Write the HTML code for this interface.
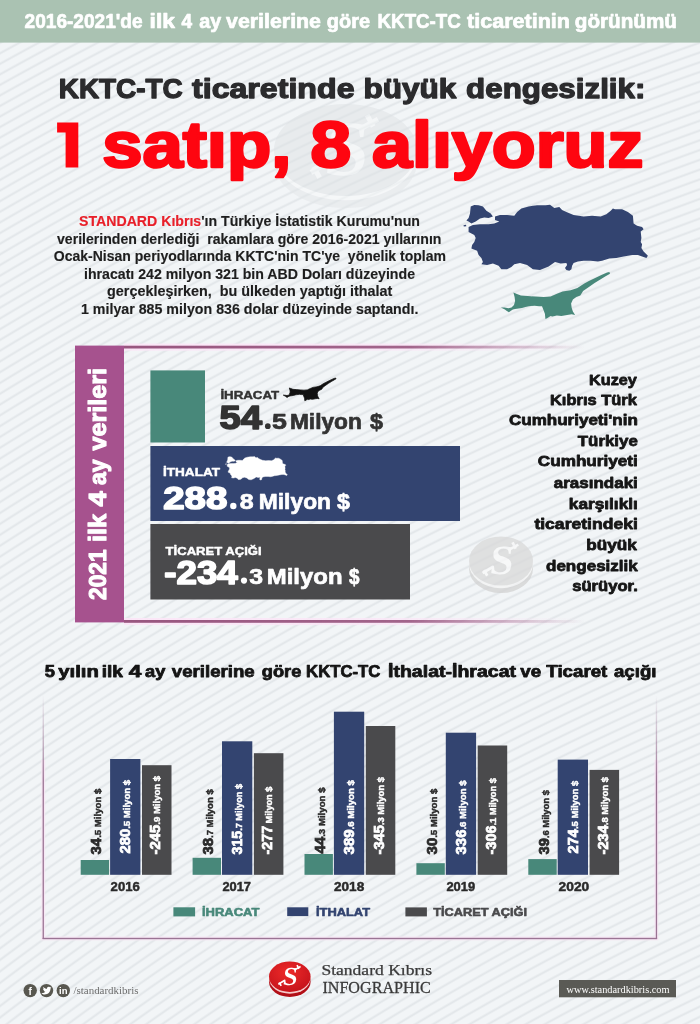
<!DOCTYPE html>
<html lang="tr"><head><meta charset="utf-8"><title>KKTC-TC ticareti</title>
<style>
html,body{margin:0;padding:0;}
body{width:700px;height:1024px;overflow:hidden;position:relative;
background-color:#f2f5f7;
background-image:repeating-radial-gradient(circle at 1900px 3500px, rgba(214,219,223,0) 0px, rgba(214,219,223,0) 5.4px, rgba(214,219,223,0.55) 7.0px, rgba(214,219,223,0.55) 7.4px, rgba(214,219,223,0) 9.2px);
font-family:"Liberation Sans", sans-serif;}
svg.page{position:absolute;left:0;top:0;will-change:transform;}
</style></head>
<body>
<svg class="page" width="700" height="1024" viewBox="0 0 700 1024">
<rect x="0" y="0" width="700" height="42.6" fill="#aac2b2"/>
<text x="24.6" y="27.7" textLength="118.0" lengthAdjust="spacingAndGlyphs" font-size="20.0" fill="#fff" stroke="#fff" stroke-width="0.7" stroke-linejoin="round" font-weight="bold" text-anchor="start" style='font-family:"Liberation Sans", sans-serif' >2016-2021'de</text>
<text x="149.6" y="27.7" textLength="25.4" lengthAdjust="spacingAndGlyphs" font-size="20.0" fill="#fff" stroke="#fff" stroke-width="0.7" stroke-linejoin="round" font-weight="bold" text-anchor="start" style='font-family:"Liberation Sans", sans-serif' >ilk</text>
<text x="181.4" y="27.7" textLength="10.6" lengthAdjust="spacingAndGlyphs" font-size="20.0" fill="#fff" stroke="#fff" stroke-width="0.7" stroke-linejoin="round" font-weight="bold" text-anchor="start" style='font-family:"Liberation Sans", sans-serif' >4</text>
<text x="199.2" y="27.7" textLength="22.0" lengthAdjust="spacingAndGlyphs" font-size="20.0" fill="#fff" stroke="#fff" stroke-width="0.7" stroke-linejoin="round" font-weight="bold" text-anchor="start" style='font-family:"Liberation Sans", sans-serif' >ay</text>
<text x="226.0" y="27.7" textLength="95.0" lengthAdjust="spacingAndGlyphs" font-size="20.0" fill="#fff" stroke="#fff" stroke-width="0.7" stroke-linejoin="round" font-weight="bold" text-anchor="start" style='font-family:"Liberation Sans", sans-serif' >verilerine</text>
<text x="326.8" y="27.7" textLength="43.2" lengthAdjust="spacingAndGlyphs" font-size="20.0" fill="#fff" stroke="#fff" stroke-width="0.7" stroke-linejoin="round" font-weight="bold" text-anchor="start" style='font-family:"Liberation Sans", sans-serif' >göre</text>
<text x="377.6" y="27.7" textLength="83.2" lengthAdjust="spacingAndGlyphs" font-size="20.0" fill="#fff" stroke="#fff" stroke-width="0.7" stroke-linejoin="round" font-weight="bold" text-anchor="start" style='font-family:"Liberation Sans", sans-serif' >KKTC-TC</text>
<text x="467.0" y="27.7" textLength="103.0" lengthAdjust="spacingAndGlyphs" font-size="20.0" fill="#fff" stroke="#fff" stroke-width="0.7" stroke-linejoin="round" font-weight="bold" text-anchor="start" style='font-family:"Liberation Sans", sans-serif' >ticaretinin</text>
<text x="574.8" y="27.7" textLength="102.2" lengthAdjust="spacingAndGlyphs" font-size="20.0" fill="#fff" stroke="#fff" stroke-width="0.7" stroke-linejoin="round" font-weight="bold" text-anchor="start" style='font-family:"Liberation Sans", sans-serif' >görünümü</text>
<g opacity="0.5"><ellipse cx="345.5" cy="162" rx="71.5" ry="46" fill="#e2e5e8"/><ellipse cx="345.5" cy="154.2" rx="71.1425" ry="46" fill="#f8f9fa"/><ellipse cx="345.5" cy="150" rx="71.5" ry="46" fill="#dde1e4"/><g transform="translate(345.5 150) scale(3.0065359477124183)" fill="none" stroke="#f5f7f8" stroke-width="1.7" stroke-linecap="butt"><path d="M-11.5,7.5 L-5,3.6 M-10.6,5.6 L-8.6,9.2 M4.5,-6.8 L10.8,-10.2 M7.2,-11.6 L9.2,-7.8"/></g><text x="0" y="0" font-size="78.17" fill="#f5f7f8" font-weight="bold" text-anchor="middle" transform="translate(344.60 174.95) skewX(-6)" style='font-family:"Liberation Serif", serif'>S</text></g>
<text x="58.8" y="97.6" textLength="123.9" lengthAdjust="spacingAndGlyphs" font-size="27.57" fill="#2b2b2d" stroke="#2b2b2d" stroke-width="1.25" stroke-linejoin="round" font-weight="bold" text-anchor="start" style='font-family:"Liberation Sans", sans-serif' >KKTC-TC</text>
<text x="192.0" y="97.6" textLength="162.5" lengthAdjust="spacingAndGlyphs" font-size="27.57" fill="#2b2b2d" stroke="#2b2b2d" stroke-width="1.25" stroke-linejoin="round" font-weight="bold" text-anchor="start" style='font-family:"Liberation Sans", sans-serif' >ticaretinde</text>
<text x="363.6" y="97.6" textLength="92.8" lengthAdjust="spacingAndGlyphs" font-size="27.57" fill="#2b2b2d" stroke="#2b2b2d" stroke-width="1.25" stroke-linejoin="round" font-weight="bold" text-anchor="start" style='font-family:"Liberation Sans", sans-serif' >büyük</text>
<text x="466.1" y="97.6" textLength="179.3" lengthAdjust="spacingAndGlyphs" font-size="27.57" fill="#2b2b2d" stroke="#2b2b2d" stroke-width="1.25" stroke-linejoin="round" font-weight="bold" text-anchor="start" style='font-family:"Liberation Sans", sans-serif' >dengesizlik:</text>
<path d="M57.1,122.4 H78.3 V167.6 H65.6 V132.6 H57.1 Z" fill="#fe0510"/>
<text x="102.2" y="167.4" textLength="189.2" lengthAdjust="spacingAndGlyphs" font-size="64.29" fill="#fe0510" stroke="#fe0510" stroke-width="2.6" stroke-linejoin="round" font-weight="bold" text-anchor="start" style='font-family:"Liberation Sans", sans-serif' >satıp,</text>
<text x="310.4" y="167.4" textLength="40.6" lengthAdjust="spacingAndGlyphs" font-size="64.29" fill="#fe0510" stroke="#fe0510" stroke-width="2.6" stroke-linejoin="round" font-weight="bold" text-anchor="start" style='font-family:"Liberation Sans", sans-serif' >8</text>
<text x="372.0" y="167.4" textLength="271.4" lengthAdjust="spacingAndGlyphs" font-size="64.29" fill="#fe0510" stroke="#fe0510" stroke-width="2.6" stroke-linejoin="round" font-weight="bold" text-anchor="start" style='font-family:"Liberation Sans", sans-serif' >alıyoruz</text>
<text x="79.0" y="225.6" textLength="341.0" lengthAdjust="spacingAndGlyphs" font-size="14.29" fill="#1e1e1e" stroke="#1e1e1e" stroke-width="0.15" stroke-linejoin="round" font-weight="bold" text-anchor="start" style='font-family:"Liberation Sans", sans-serif' xml:space="preserve"><tspan fill="#e8202a" stroke="#e8202a">STANDARD Kıbrıs</tspan>'ın Türkiye İstatistik Kurumu'nun</text>
<text x="57.0" y="243.9" textLength="384.4" lengthAdjust="spacingAndGlyphs" font-size="14.29" fill="#1e1e1e" stroke="#1e1e1e" stroke-width="0.15" stroke-linejoin="round" font-weight="bold" text-anchor="start" style='font-family:"Liberation Sans", sans-serif' xml:space="preserve">verilerinden derlediği  rakamlara göre 2016-2021 yıllarının</text>
<text x="53.8" y="260.9" textLength="392.2" lengthAdjust="spacingAndGlyphs" font-size="14.29" fill="#1e1e1e" stroke="#1e1e1e" stroke-width="0.15" stroke-linejoin="round" font-weight="bold" text-anchor="start" style='font-family:"Liberation Sans", sans-serif' xml:space="preserve">Ocak-Nisan periyodlarında KKTC'nin TC'ye  yönelik toplam</text>
<text x="84.0" y="279.0" textLength="331.0" lengthAdjust="spacingAndGlyphs" font-size="14.29" fill="#1e1e1e" stroke="#1e1e1e" stroke-width="0.15" stroke-linejoin="round" font-weight="bold" text-anchor="start" style='font-family:"Liberation Sans", sans-serif' xml:space="preserve">ihracatı 242 milyon 321 bin ABD Doları düzeyinde</text>
<text x="107.0" y="295.6" textLength="285.4" lengthAdjust="spacingAndGlyphs" font-size="14.29" fill="#1e1e1e" stroke="#1e1e1e" stroke-width="0.15" stroke-linejoin="round" font-weight="bold" text-anchor="start" style='font-family:"Liberation Sans", sans-serif' xml:space="preserve">gerçekleşirken,  bu ülkeden yaptığı ithalat</text>
<text x="81.0" y="313.5" textLength="337.4" lengthAdjust="spacingAndGlyphs" font-size="14.29" fill="#1e1e1e" stroke="#1e1e1e" stroke-width="0.15" stroke-linejoin="round" font-weight="bold" text-anchor="start" style='font-family:"Liberation Sans", sans-serif' xml:space="preserve">1 milyar 885 milyon 836 dolar düzeyinde saptandı.</text>
<path d="M470.7,206.4 L474.3,205 L478.6,205.3 L482.9,206.4 L486.4,210.7 L490.7,213.6 L492.9,216.4 L488.6,217.9 L484.3,217.6 L480,218.6 L475.7,221.4 L471.4,223.6 L468.6,221.4 L466.4,220.4 L468.6,217.9 L470,213.6 Z M468.6,227.1 L472.9,225 L480,224.3 L488.6,224.3 L494.3,223.6 L499.3,221.4 L495,220 L495,216.4 L500,215 L507.1,215 L514.3,215.7 L517.1,212.1 L521.4,208.6 L528.6,206.4 L537.1,205.3 L545.7,205.3 L550,204.7 L554.3,207.9 L559.3,207.1 L562.1,210 L566.4,212.1 L573.6,215 L583.6,216.4 L592.1,215.7 L600.7,216.4 L606.4,214.3 L610.7,210.7 L612.9,208.6 L615,209.3 L622.1,209.3 L627.9,212.1 L632.9,215.7 L633.6,223.6 L637.1,225.7 L642.1,227.1 L643.6,229.3 L640.7,231.4 L641.4,237.9 L640.7,242.1 L642.1,244.3 L641.4,247.9 L643.6,251.4 L647.9,255.7 L646.4,257.9 L642.1,256.4 L637.9,255 L632.1,255 L623.6,256.4 L616.4,257.9 L609.3,258.6 L602.1,260.7 L597.9,261.4 L590.7,260.7 L583.6,260.7 L577.9,261.4 L573.6,262.9 L572.1,265.7 L571.4,269.3 L569.3,270.7 L566.4,270 L565,267.9 L567.1,265 L566.4,262.9 L560.7,263.6 L555,262.1 L548.6,266.4 L540,270 L532.9,269.3 L527.1,265 L520,262.9 L514.3,264.3 L511.4,267.1 L507.1,269.3 L501.4,269.3 L498.6,265.7 L492.9,263.6 L487.1,265 L481.4,264.3 L482.9,262.1 L481.4,257.9 L478.6,255 L477.1,250.7 L471.4,248.6 L472.1,245 L474.3,242.1 L475.7,237.9 L474.3,235 L468.6,232.1 Z M463.5,225.3 L466,224.8 L466.3,226.2 L463.8,226.6 Z" fill="#334470"/>
<path d="M513.4,292.6 L516.3,293.7 L520.9,295.4 L527.7,296 L535.7,296.6 L543.7,297.1 L550.6,296.6 L556.9,293.7 L562.6,291.4 L570.6,290.3 L577.4,288 L584.3,283.4 L588.9,281.1 L595.7,277.7 L601.4,274.9 L607.1,272.6 L609.4,272 L610,273.7 L606,276 L600.3,279.4 L594.6,282.9 L588.9,286.9 L583.1,290.9 L580.3,295.4 L576.3,297.1 L572.9,299.4 L571.1,303.4 L571.7,308 L572.9,311.4 L575.1,314.9 L571.7,314.3 L567.1,314.9 L561.4,316 L556.9,315.4 L552.3,316.6 L550.6,316 L547.1,318.3 L545.4,318.9 L544.9,313.7 L543.1,309.1 L542,306.3 L539.1,306.3 L534.6,305.7 L528.9,306.3 L525.4,306.9 L522,308 L518.6,308.6 L515.1,309.1 L512.9,309.6 L510.6,310.9 L508.9,312.3 L506.5,310.8 L504.9,309.4 L500.9,307.4 L504.5,307.6 L508.5,308.2 L511.5,307.5 L514,305 L515.1,301 L514.6,297 L513.4,292.6 Z" fill="#48887a"/>
<defs><linearGradient id="fadeL" x1="0" x2="1" y1="0" y2="0"><stop offset="0" stop-color="#98567f"/><stop offset="0.62" stop-color="#98567f" stop-opacity="0.9"/><stop offset="1" stop-color="#98567f" stop-opacity="0"/></linearGradient><linearGradient id="fadeH" x1="0" x2="1" y1="0" y2="0"><stop offset="0" stop-color="#fbe6f7"/><stop offset="0.6" stop-color="#fbe6f7" stop-opacity="0.8"/><stop offset="1" stop-color="#fbe6f7" stop-opacity="0"/></linearGradient><linearGradient id="fadeV" x1="0" x2="0" y1="0" y2="1"><stop offset="0" stop-color="#9a7494" stop-opacity="0"/><stop offset="0.35" stop-color="#9a7494" stop-opacity="1"/><stop offset="1" stop-color="#9a7494"/></linearGradient></defs>
<rect x="75" y="345.6" width="49" height="276.8" fill="#a6528e"/>
<rect x="124" y="343.6" width="460" height="7" fill="url(#fadeH)"/>
<rect x="124" y="618" width="460" height="7" fill="url(#fadeH)"/>
<rect x="124" y="345.7" width="460" height="2.8" fill="url(#fadeL)"/>
<rect x="124" y="620" width="460" height="2.8" fill="url(#fadeL)"/>
<text x="-0.8" y="0.0" textLength="50.5" lengthAdjust="spacingAndGlyphs" font-size="23.71" fill="#fff" stroke="#fff" stroke-width="1.1" stroke-linejoin="round" font-weight="bold" text-anchor="start" style='font-family:"Liberation Sans", sans-serif' transform="translate(105.60 599.1) rotate(-90)" >2021</text>
<text x="57.1" y="0.0" textLength="28.2" lengthAdjust="spacingAndGlyphs" font-size="23.71" fill="#fff" stroke="#fff" stroke-width="1.1" stroke-linejoin="round" font-weight="bold" text-anchor="start" style='font-family:"Liberation Sans", sans-serif' transform="translate(105.60 599.1) rotate(-90)" >ilk</text>
<text x="92.6" y="0.0" textLength="15.2" lengthAdjust="spacingAndGlyphs" font-size="23.71" fill="#fff" stroke="#fff" stroke-width="1.1" stroke-linejoin="round" font-weight="bold" text-anchor="start" style='font-family:"Liberation Sans", sans-serif' transform="translate(105.60 599.1) rotate(-90)" >4</text>
<text x="114.1" y="0.0" textLength="25.6" lengthAdjust="spacingAndGlyphs" font-size="23.71" fill="#fff" stroke="#fff" stroke-width="1.1" stroke-linejoin="round" font-weight="bold" text-anchor="start" style='font-family:"Liberation Sans", sans-serif' transform="translate(105.60 599.1) rotate(-90)" >ay</text>
<text x="148.6" y="0.0" textLength="82.4" lengthAdjust="spacingAndGlyphs" font-size="23.71" fill="#fff" stroke="#fff" stroke-width="1.1" stroke-linejoin="round" font-weight="bold" text-anchor="start" style='font-family:"Liberation Sans", sans-serif' transform="translate(105.60 599.1) rotate(-90)" >verileri</text>
<rect x="150.4" y="370.4" width="54.6" height="72.1" fill="#48887a"/>
<rect x="150.4" y="446" width="309.6" height="75" fill="#334470"/>
<rect x="150.4" y="524" width="259.6" height="75.5" fill="#4a4a4c"/>
<text x="220.4" y="398.7" textLength="58.8" lengthAdjust="spacingAndGlyphs" font-size="11.43" fill="#333" stroke="#333" stroke-width="0.45" stroke-linejoin="round" font-weight="bold" text-anchor="start" style='font-family:"Liberation Sans", sans-serif' >İHRACAT</text>
<circle cx="267.8" cy="426.2" r="2.85" fill="#333"/>
<text x="219.5" y="429.0" textLength="42.5" lengthAdjust="spacingAndGlyphs" font-size="32.29" fill="#333" stroke="#333" stroke-width="1.6" stroke-linejoin="round" font-weight="bold" text-anchor="start" style='font-family:"Liberation Sans", sans-serif' >54</text>
<text x="272.0" y="429.0" textLength="14.9" lengthAdjust="spacingAndGlyphs" font-size="22.86" fill="#333" stroke="#333" stroke-width="0.7" stroke-linejoin="round" font-weight="bold" text-anchor="start" style='font-family:"Liberation Sans", sans-serif' >5</text>
<text x="289.9" y="429.0" textLength="72.0" lengthAdjust="spacingAndGlyphs" font-size="22.86" fill="#333" stroke="#333" stroke-width="0.7" stroke-linejoin="round" font-weight="bold" text-anchor="start" style='font-family:"Liberation Sans", sans-serif' >Milyon</text>
<text x="370.0" y="429.0" textLength="13.0" lengthAdjust="spacingAndGlyphs" font-size="22.86" fill="#333" stroke="#333" stroke-width="0.7" stroke-linejoin="round" font-weight="bold" text-anchor="start" style='font-family:"Liberation Sans", sans-serif' >$</text>
<text x="163.0" y="476.1" textLength="57.0" lengthAdjust="spacingAndGlyphs" font-size="11.43" fill="#fff" stroke="#fff" stroke-width="0.45" stroke-linejoin="round" font-weight="bold" text-anchor="start" style='font-family:"Liberation Sans", sans-serif' >İTHALAT</text>
<circle cx="233.3" cy="506" r="3.2" fill="#fff"/>
<text x="163.2" y="509.1" textLength="64.1" lengthAdjust="spacingAndGlyphs" font-size="30.86" fill="#fff" stroke="#fff" stroke-width="1.6" stroke-linejoin="round" font-weight="bold" text-anchor="start" style='font-family:"Liberation Sans", sans-serif' >288</text>
<text x="239.8" y="509.1" textLength="13.9" lengthAdjust="spacingAndGlyphs" font-size="22.86" fill="#fff" stroke="#fff" stroke-width="0.7" stroke-linejoin="round" font-weight="bold" text-anchor="start" style='font-family:"Liberation Sans", sans-serif' >8</text>
<text x="258.8" y="509.1" textLength="72.2" lengthAdjust="spacingAndGlyphs" font-size="22.86" fill="#fff" stroke="#fff" stroke-width="0.7" stroke-linejoin="round" font-weight="bold" text-anchor="start" style='font-family:"Liberation Sans", sans-serif' >Milyon</text>
<text x="337.1" y="509.1" textLength="12.9" lengthAdjust="spacingAndGlyphs" font-size="22.86" fill="#fff" stroke="#fff" stroke-width="0.7" stroke-linejoin="round" font-weight="bold" text-anchor="start" style='font-family:"Liberation Sans", sans-serif' >$</text>
<text x="165.6" y="554.7" textLength="96.0" lengthAdjust="spacingAndGlyphs" font-size="11.43" fill="#fff" stroke="#fff" stroke-width="0.45" stroke-linejoin="round" font-weight="bold" text-anchor="start" style='font-family:"Liberation Sans", sans-serif' >TİCARET AÇIĞI</text>
<circle cx="244" cy="580.6" r="3.1" fill="#fff"/>
<text x="164.2" y="583.6" textLength="73.6" lengthAdjust="spacingAndGlyphs" font-size="32.86" fill="#fff" stroke="#fff" stroke-width="1.6" stroke-linejoin="round" font-weight="bold" text-anchor="start" style='font-family:"Liberation Sans", sans-serif' >-234</text>
<text x="249.2" y="583.6" textLength="13.8" lengthAdjust="spacingAndGlyphs" font-size="22.86" fill="#fff" stroke="#fff" stroke-width="0.7" stroke-linejoin="round" font-weight="bold" text-anchor="start" style='font-family:"Liberation Sans", sans-serif' >3</text>
<text x="266.8" y="583.6" textLength="75.7" lengthAdjust="spacingAndGlyphs" font-size="22.86" fill="#fff" stroke="#fff" stroke-width="0.7" stroke-linejoin="round" font-weight="bold" text-anchor="start" style='font-family:"Liberation Sans", sans-serif' >Milyon</text>
<text x="349.0" y="583.6" textLength="10.5" lengthAdjust="spacingAndGlyphs" font-size="22.86" fill="#fff" stroke="#fff" stroke-width="0.7" stroke-linejoin="round" font-weight="bold" text-anchor="start" style='font-family:"Liberation Sans", sans-serif' >$</text>
<path d="M513.4,292.6 L516.3,293.7 L520.9,295.4 L527.7,296 L535.7,296.6 L543.7,297.1 L550.6,296.6 L556.9,293.7 L562.6,291.4 L570.6,290.3 L577.4,288 L584.3,283.4 L588.9,281.1 L595.7,277.7 L601.4,274.9 L607.1,272.6 L609.4,272 L610,273.7 L606,276 L600.3,279.4 L594.6,282.9 L588.9,286.9 L583.1,290.9 L580.3,295.4 L576.3,297.1 L572.9,299.4 L571.1,303.4 L571.7,308 L572.9,311.4 L575.1,314.9 L571.7,314.3 L567.1,314.9 L561.4,316 L556.9,315.4 L552.3,316.6 L550.6,316 L547.1,318.3 L545.4,318.9 L544.9,313.7 L543.1,309.1 L542,306.3 L539.1,306.3 L534.6,305.7 L528.9,306.3 L525.4,306.9 L522,308 L518.6,308.6 L515.1,309.1 L512.9,309.6 L510.6,310.9 L508.9,312.3 L506.5,310.8 L504.9,309.4 L500.9,307.4 L504.5,307.6 L508.5,308.2 L511.5,307.5 L514,305 L515.1,301 L514.6,297 L513.4,292.6 Z" fill="#111" stroke="#111" stroke-width="1.6" stroke-linejoin="round" transform="translate(283.3 378) scale(0.483 0.484) translate(-500.9 -272)"/>
<path d="M470.7,206.4 L474.3,205 L478.6,205.3 L482.9,206.4 L486.4,210.7 L490.7,213.6 L492.9,216.4 L488.6,217.9 L484.3,217.6 L480,218.6 L475.7,221.4 L471.4,223.6 L468.6,221.4 L466.4,220.4 L468.6,217.9 L470,213.6 Z M468.6,227.1 L472.9,225 L480,224.3 L488.6,224.3 L494.3,223.6 L499.3,221.4 L495,220 L495,216.4 L500,215 L507.1,215 L514.3,215.7 L517.1,212.1 L521.4,208.6 L528.6,206.4 L537.1,205.3 L545.7,205.3 L550,204.7 L554.3,207.9 L559.3,207.1 L562.1,210 L566.4,212.1 L573.6,215 L583.6,216.4 L592.1,215.7 L600.7,216.4 L606.4,214.3 L610.7,210.7 L612.9,208.6 L615,209.3 L622.1,209.3 L627.9,212.1 L632.9,215.7 L633.6,223.6 L637.1,225.7 L642.1,227.1 L643.6,229.3 L640.7,231.4 L641.4,237.9 L640.7,242.1 L642.1,244.3 L641.4,247.9 L643.6,251.4 L647.9,255.7 L646.4,257.9 L642.1,256.4 L637.9,255 L632.1,255 L623.6,256.4 L616.4,257.9 L609.3,258.6 L602.1,260.7 L597.9,261.4 L590.7,260.7 L583.6,260.7 L577.9,261.4 L573.6,262.9 L572.1,265.7 L571.4,269.3 L569.3,270.7 L566.4,270 L565,267.9 L567.1,265 L566.4,262.9 L560.7,263.6 L555,262.1 L548.6,266.4 L540,270 L532.9,269.3 L527.1,265 L520,262.9 L514.3,264.3 L511.4,267.1 L507.1,269.3 L501.4,269.3 L498.6,265.7 L492.9,263.6 L487.1,265 L481.4,264.3 L482.9,262.1 L481.4,257.9 L478.6,255 L477.1,250.7 L471.4,248.6 L472.1,245 L474.3,242.1 L475.7,237.9 L474.3,235 L468.6,232.1 Z M463.5,225.3 L466,224.8 L466.3,226.2 L463.8,226.6 Z" fill="#fff" stroke="#fff" stroke-width="1.2" stroke-linejoin="round" transform="translate(225.5 456.6) scale(0.335 0.355) translate(-463.5 -204.7)"/>
<g opacity="0.75"><ellipse cx="501" cy="568.5" rx="32" ry="24.5" fill="#d2d2d2"/><ellipse cx="501" cy="563.625" rx="31.84" ry="24.5" fill="#f3f3f3"/><ellipse cx="501" cy="561" rx="32" ry="24.5" fill="#d9d9d9"/><g transform="translate(501 561) scale(1.6013071895424835)" fill="none" stroke="#f8f8f8" stroke-width="1.7" stroke-linecap="butt"><path d="M-11.5,7.5 L-5,3.6 M-10.6,5.6 L-8.6,9.2 M4.5,-6.8 L10.8,-10.2 M7.2,-11.6 L9.2,-7.8"/></g><text x="0" y="0" font-size="41.63" fill="#f8f8f8" font-weight="bold" text-anchor="middle" transform="translate(500.52 574.29) skewX(-6)" style='font-family:"Liberation Serif", serif'>S</text></g>
<text x="589.0" y="384.7" textLength="47.8" lengthAdjust="spacingAndGlyphs" font-size="15.29" fill="#161616" stroke="#161616" stroke-width="0.8" stroke-linejoin="round" font-weight="bold" text-anchor="start" style='font-family:"Liberation Sans", sans-serif' >Kuzey</text>
<text x="550.0" y="404.6" textLength="86.8" lengthAdjust="spacingAndGlyphs" font-size="15.29" fill="#161616" stroke="#161616" stroke-width="0.8" stroke-linejoin="round" font-weight="bold" text-anchor="start" style='font-family:"Liberation Sans", sans-serif' >Kıbrıs Türk</text>
<text x="509.0" y="425.4" textLength="128.8" lengthAdjust="spacingAndGlyphs" font-size="15.29" fill="#161616" stroke="#161616" stroke-width="0.8" stroke-linejoin="round" font-weight="bold" text-anchor="start" style='font-family:"Liberation Sans", sans-serif' >Cumhuriyeti'nin</text>
<text x="577.8" y="446.0" textLength="60.0" lengthAdjust="spacingAndGlyphs" font-size="15.29" fill="#161616" stroke="#161616" stroke-width="0.8" stroke-linejoin="round" font-weight="bold" text-anchor="start" style='font-family:"Liberation Sans", sans-serif' >Türkiye</text>
<text x="537.8" y="465.7" textLength="100.0" lengthAdjust="spacingAndGlyphs" font-size="15.29" fill="#161616" stroke="#161616" stroke-width="0.8" stroke-linejoin="round" font-weight="bold" text-anchor="start" style='font-family:"Liberation Sans", sans-serif' >Cumhuriyeti</text>
<text x="553.8" y="487.6" textLength="84.0" lengthAdjust="spacingAndGlyphs" font-size="15.29" fill="#161616" stroke="#161616" stroke-width="0.8" stroke-linejoin="round" font-weight="bold" text-anchor="start" style='font-family:"Liberation Sans", sans-serif' >arasındaki</text>
<text x="568.8" y="508.6" textLength="69.0" lengthAdjust="spacingAndGlyphs" font-size="15.29" fill="#161616" stroke="#161616" stroke-width="0.8" stroke-linejoin="round" font-weight="bold" text-anchor="start" style='font-family:"Liberation Sans", sans-serif' >karşılıklı</text>
<text x="534.4" y="529.4" textLength="103.4" lengthAdjust="spacingAndGlyphs" font-size="15.29" fill="#161616" stroke="#161616" stroke-width="0.8" stroke-linejoin="round" font-weight="bold" text-anchor="start" style='font-family:"Liberation Sans", sans-serif' >ticaretindeki</text>
<text x="586.2" y="550.4" textLength="50.6" lengthAdjust="spacingAndGlyphs" font-size="15.29" fill="#161616" stroke="#161616" stroke-width="0.8" stroke-linejoin="round" font-weight="bold" text-anchor="start" style='font-family:"Liberation Sans", sans-serif' >büyük</text>
<text x="546.0" y="570.7" textLength="91.8" lengthAdjust="spacingAndGlyphs" font-size="15.29" fill="#161616" stroke="#161616" stroke-width="0.8" stroke-linejoin="round" font-weight="bold" text-anchor="start" style='font-family:"Liberation Sans", sans-serif' >dengesizlik</text>
<text x="572.2" y="591.0" textLength="65.6" lengthAdjust="spacingAndGlyphs" font-size="15.29" fill="#161616" stroke="#161616" stroke-width="0.8" stroke-linejoin="round" font-weight="bold" text-anchor="start" style='font-family:"Liberation Sans", sans-serif' >sürüyor.</text>
<text x="44.8" y="677.0" textLength="10.2" lengthAdjust="spacingAndGlyphs" font-size="15.71" fill="#141414" stroke="#141414" stroke-width="0.75" stroke-linejoin="round" font-weight="bold" text-anchor="start" style='font-family:"Liberation Sans", sans-serif' >5</text>
<text x="58.3" y="677.0" textLength="40.6" lengthAdjust="spacingAndGlyphs" font-size="15.71" fill="#141414" stroke="#141414" stroke-width="0.75" stroke-linejoin="round" font-weight="bold" text-anchor="start" style='font-family:"Liberation Sans", sans-serif' >yılın</text>
<text x="101.7" y="677.0" textLength="21.2" lengthAdjust="spacingAndGlyphs" font-size="15.71" fill="#141414" stroke="#141414" stroke-width="0.75" stroke-linejoin="round" font-weight="bold" text-anchor="start" style='font-family:"Liberation Sans", sans-serif' >ilk</text>
<text x="128.7" y="677.0" textLength="12.6" lengthAdjust="spacingAndGlyphs" font-size="15.71" fill="#141414" stroke="#141414" stroke-width="0.75" stroke-linejoin="round" font-weight="bold" text-anchor="start" style='font-family:"Liberation Sans", sans-serif' >4</text>
<text x="145.1" y="677.0" textLength="20.3" lengthAdjust="spacingAndGlyphs" font-size="15.71" fill="#141414" stroke="#141414" stroke-width="0.75" stroke-linejoin="round" font-weight="bold" text-anchor="start" style='font-family:"Liberation Sans", sans-serif' >ay</text>
<text x="171.8" y="677.0" textLength="82.9" lengthAdjust="spacingAndGlyphs" font-size="15.71" fill="#141414" stroke="#141414" stroke-width="0.75" stroke-linejoin="round" font-weight="bold" text-anchor="start" style='font-family:"Liberation Sans", sans-serif' >verilerine</text>
<text x="261.8" y="677.0" textLength="39.5" lengthAdjust="spacingAndGlyphs" font-size="15.71" fill="#141414" stroke="#141414" stroke-width="0.75" stroke-linejoin="round" font-weight="bold" text-anchor="start" style='font-family:"Liberation Sans", sans-serif' >göre</text>
<text x="306.1" y="677.0" textLength="74.3" lengthAdjust="spacingAndGlyphs" font-size="15.71" fill="#141414" stroke="#141414" stroke-width="0.75" stroke-linejoin="round" font-weight="bold" text-anchor="start" style='font-family:"Liberation Sans", sans-serif' >KKTC-TC</text>
<text x="388.0" y="677.0" textLength="128.0" lengthAdjust="spacingAndGlyphs" font-size="15.71" fill="#141414" stroke="#141414" stroke-width="0.75" stroke-linejoin="round" font-weight="bold" text-anchor="start" style='font-family:"Liberation Sans", sans-serif' >İthalat-İhracat</text>
<text x="520.2" y="677.0" textLength="20.9" lengthAdjust="spacingAndGlyphs" font-size="15.71" fill="#141414" stroke="#141414" stroke-width="0.75" stroke-linejoin="round" font-weight="bold" text-anchor="start" style='font-family:"Liberation Sans", sans-serif' >ve</text>
<text x="546.3" y="677.0" textLength="61.0" lengthAdjust="spacingAndGlyphs" font-size="15.71" fill="#141414" stroke="#141414" stroke-width="0.75" stroke-linejoin="round" font-weight="bold" text-anchor="start" style='font-family:"Liberation Sans", sans-serif' >Ticaret</text>
<text x="614.0" y="677.0" textLength="42.5" lengthAdjust="spacingAndGlyphs" font-size="15.71" fill="#141414" stroke="#141414" stroke-width="0.75" stroke-linejoin="round" font-weight="bold" text-anchor="start" style='font-family:"Liberation Sans", sans-serif' >açığı</text>
<rect x="41.2" y="760" width="4" height="180" fill="#f7e6f4" opacity="0.8"/>
<rect x="654.4" y="760" width="4" height="180" fill="#f7e6f4" opacity="0.8"/>
<rect x="41.2" y="936.4" width="617" height="4" fill="#f7e6f4" opacity="0.8"/>
<rect x="42.6" y="695" width="1.3" height="244" fill="url(#fadeV)"/>
<rect x="655.8" y="695" width="1.3" height="244" fill="url(#fadeV)"/>
<rect x="42.6" y="937.8" width="614.5" height="1.4" fill="#9a7494"/>
<rect x="80.7" y="860" width="28.4" height="14.8" fill="#48887a"/>
<rect x="110.1" y="759" width="30.3" height="115.8" fill="#334470"/>
<rect x="142.0" y="765.2" width="29.5" height="109.6" fill="#4a4a4c"/>
<text x="-0.8" y="0.0" textLength="65.7" lengthAdjust="spacingAndGlyphs" font-size="10" fill="#2a2a2a" font-weight="bold" text-anchor="start" style='font-family:"Liberation Sans", sans-serif' transform="translate(101.00 853.6) rotate(-90)" xml:space="preserve"><tspan font-size="15.0" stroke="#2a2a2a" stroke-width="0.8">34</tspan><tspan font-size="9.71" stroke="#2a2a2a" stroke-width="0.45">.5 Milyon $</tspan></text>
<text x="0.2" y="0.0" textLength="73.4" lengthAdjust="spacingAndGlyphs" font-size="10" fill="#fff" font-weight="bold" text-anchor="start" style='font-family:"Liberation Sans", sans-serif' transform="translate(130.00 853.6) rotate(-90)" xml:space="preserve"><tspan font-size="15.0" stroke="#fff" stroke-width="0.8">280</tspan><tspan font-size="9.71" stroke="#fff" stroke-width="0.45">.5 Milyon $</tspan></text>
<text x="-0.8" y="0.0" textLength="78.6" lengthAdjust="spacingAndGlyphs" font-size="10" fill="#fff" font-weight="bold" text-anchor="start" style='font-family:"Liberation Sans", sans-serif' transform="translate(160.20 853.6) rotate(-90)" xml:space="preserve"><tspan font-size="15.0" stroke="#fff" stroke-width="0.8">-245</tspan><tspan font-size="9.71" stroke="#fff" stroke-width="0.45">.9 Milyon $</tspan></text>
<text x="110.6" y="890.5" textLength="29.2" lengthAdjust="spacingAndGlyphs" font-size="12.29" fill="#2a2a2a" stroke="#2a2a2a" stroke-width="0.45" stroke-linejoin="round" font-weight="bold" text-anchor="start" style='font-family:"Liberation Sans", sans-serif' >2016</text>
<rect x="192.6" y="857.8" width="28.4" height="17.0" fill="#48887a"/>
<rect x="222.0" y="741.3" width="30.3" height="133.5" fill="#334470"/>
<rect x="253.9" y="753.2" width="29.5" height="121.6" fill="#4a4a4c"/>
<text x="-0.8" y="0.0" textLength="65.1" lengthAdjust="spacingAndGlyphs" font-size="10" fill="#2a2a2a" font-weight="bold" text-anchor="start" style='font-family:"Liberation Sans", sans-serif' transform="translate(212.90 853.6) rotate(-90)" xml:space="preserve"><tspan font-size="15.0" stroke="#2a2a2a" stroke-width="0.8">38</tspan><tspan font-size="9.71" stroke="#2a2a2a" stroke-width="0.45">.7 Milyon $</tspan></text>
<text x="-0.8" y="0.0" textLength="70.4" lengthAdjust="spacingAndGlyphs" font-size="10" fill="#fff" font-weight="bold" text-anchor="start" style='font-family:"Liberation Sans", sans-serif' transform="translate(241.90 853.6) rotate(-90)" xml:space="preserve"><tspan font-size="15.0" stroke="#fff" stroke-width="0.8">315</tspan><tspan font-size="9.71" stroke="#fff" stroke-width="0.45">.7 Milyon $</tspan></text>
<text x="-0.8" y="0.0" textLength="67.8" lengthAdjust="spacingAndGlyphs" font-size="10" fill="#fff" font-weight="bold" text-anchor="start" style='font-family:"Liberation Sans", sans-serif' transform="translate(272.10 853.6) rotate(-90)" xml:space="preserve"><tspan font-size="15.0" stroke="#fff" stroke-width="0.8">-277</tspan><tspan font-size="9.71" stroke="#fff" stroke-width="0.45"> Milyon $</tspan></text>
<text x="222.4" y="890.5" textLength="28.6" lengthAdjust="spacingAndGlyphs" font-size="12.29" fill="#2a2a2a" stroke="#2a2a2a" stroke-width="0.45" stroke-linejoin="round" font-weight="bold" text-anchor="start" style='font-family:"Liberation Sans", sans-serif' >2017</text>
<rect x="304.5" y="854" width="28.4" height="20.8" fill="#48887a"/>
<rect x="333.9" y="711.7" width="30.3" height="163.1" fill="#334470"/>
<rect x="365.8" y="726" width="29.5" height="148.8" fill="#4a4a4c"/>
<text x="0.2" y="0.0" textLength="65.9" lengthAdjust="spacingAndGlyphs" font-size="10" fill="#2a2a2a" font-weight="bold" text-anchor="start" style='font-family:"Liberation Sans", sans-serif' transform="translate(324.80 853.6) rotate(-90)" xml:space="preserve"><tspan font-size="15.0" stroke="#2a2a2a" stroke-width="0.8">44</tspan><tspan font-size="9.71" stroke="#2a2a2a" stroke-width="0.45">.3 Milyon $</tspan></text>
<text x="-0.8" y="0.0" textLength="74.4" lengthAdjust="spacingAndGlyphs" font-size="10" fill="#fff" font-weight="bold" text-anchor="start" style='font-family:"Liberation Sans", sans-serif' transform="translate(353.80 853.6) rotate(-90)" xml:space="preserve"><tspan font-size="15.0" stroke="#fff" stroke-width="0.8">389</tspan><tspan font-size="9.71" stroke="#fff" stroke-width="0.45">.6 Milyon $</tspan></text>
<text x="-0.8" y="0.0" textLength="77.4" lengthAdjust="spacingAndGlyphs" font-size="10" fill="#fff" font-weight="bold" text-anchor="start" style='font-family:"Liberation Sans", sans-serif' transform="translate(384.00 853.6) rotate(-90)" xml:space="preserve"><tspan font-size="15.0" stroke="#fff" stroke-width="0.8">-345</tspan><tspan font-size="9.71" stroke="#fff" stroke-width="0.45">.3 Milyon $</tspan></text>
<text x="334.0" y="890.5" textLength="30.2" lengthAdjust="spacingAndGlyphs" font-size="12.29" fill="#2a2a2a" stroke="#2a2a2a" stroke-width="0.45" stroke-linejoin="round" font-weight="bold" text-anchor="start" style='font-family:"Liberation Sans", sans-serif' >2018</text>
<rect x="416.4" y="863.2" width="28.4" height="11.6" fill="#48887a"/>
<rect x="445.8" y="732.7" width="30.3" height="142.1" fill="#334470"/>
<rect x="477.7" y="745.5" width="29.5" height="129.3" fill="#4a4a4c"/>
<text x="-0.8" y="0.0" textLength="65.8" lengthAdjust="spacingAndGlyphs" font-size="10" fill="#2a2a2a" font-weight="bold" text-anchor="start" style='font-family:"Liberation Sans", sans-serif' transform="translate(436.70 853.6) rotate(-90)" xml:space="preserve"><tspan font-size="15.0" stroke="#2a2a2a" stroke-width="0.8">30</tspan><tspan font-size="9.71" stroke="#2a2a2a" stroke-width="0.45">.5 Milyon $</tspan></text>
<text x="-0.8" y="0.0" textLength="74.0" lengthAdjust="spacingAndGlyphs" font-size="10" fill="#fff" font-weight="bold" text-anchor="start" style='font-family:"Liberation Sans", sans-serif' transform="translate(465.70 853.6) rotate(-90)" xml:space="preserve"><tspan font-size="15.0" stroke="#fff" stroke-width="0.8">336</tspan><tspan font-size="9.71" stroke="#fff" stroke-width="0.45">.6 Milyon $</tspan></text>
<text x="-0.8" y="0.0" textLength="76.4" lengthAdjust="spacingAndGlyphs" font-size="10" fill="#fff" font-weight="bold" text-anchor="start" style='font-family:"Liberation Sans", sans-serif' transform="translate(495.90 853.6) rotate(-90)" xml:space="preserve"><tspan font-size="15.0" stroke="#fff" stroke-width="0.8">-306</tspan><tspan font-size="9.71" stroke="#fff" stroke-width="0.45">.1 Milyon $</tspan></text>
<text x="446.4" y="890.5" textLength="28.8" lengthAdjust="spacingAndGlyphs" font-size="12.29" fill="#2a2a2a" stroke="#2a2a2a" stroke-width="0.45" stroke-linejoin="round" font-weight="bold" text-anchor="start" style='font-family:"Liberation Sans", sans-serif' >2019</text>
<rect x="528.3" y="859.1" width="28.4" height="15.7" fill="#48887a"/>
<rect x="557.7" y="759.6" width="30.3" height="115.2" fill="#334470"/>
<rect x="589.6" y="769.9" width="29.5" height="104.9" fill="#4a4a4c"/>
<text x="-0.8" y="0.0" textLength="64.4" lengthAdjust="spacingAndGlyphs" font-size="10" fill="#2a2a2a" font-weight="bold" text-anchor="start" style='font-family:"Liberation Sans", sans-serif' transform="translate(548.60 853.6) rotate(-90)" xml:space="preserve"><tspan font-size="15.0" stroke="#2a2a2a" stroke-width="0.8">39</tspan><tspan font-size="9.71" stroke="#2a2a2a" stroke-width="0.45">.6 Milyon $</tspan></text>
<text x="0.2" y="0.0" textLength="72.6" lengthAdjust="spacingAndGlyphs" font-size="10" fill="#fff" font-weight="bold" text-anchor="start" style='font-family:"Liberation Sans", sans-serif' transform="translate(577.60 853.6) rotate(-90)" xml:space="preserve"><tspan font-size="15.0" stroke="#fff" stroke-width="0.8">274</tspan><tspan font-size="9.71" stroke="#fff" stroke-width="0.45">.5 Milyon $</tspan></text>
<text x="-0.8" y="0.0" textLength="77.4" lengthAdjust="spacingAndGlyphs" font-size="10" fill="#fff" font-weight="bold" text-anchor="start" style='font-family:"Liberation Sans", sans-serif' transform="translate(607.80 853.6) rotate(-90)" xml:space="preserve"><tspan font-size="15.0" stroke="#fff" stroke-width="0.8">-234</tspan><tspan font-size="9.71" stroke="#fff" stroke-width="0.45">.8 Milyon $</tspan></text>
<text x="558.6" y="890.5" textLength="30.6" lengthAdjust="spacingAndGlyphs" font-size="12.29" fill="#2a2a2a" stroke="#2a2a2a" stroke-width="0.45" stroke-linejoin="round" font-weight="bold" text-anchor="start" style='font-family:"Liberation Sans", sans-serif' >2020</text>
<rect x="173.4" y="907.3" width="21.7" height="9.1" fill="#48887a"/>
<text x="202.0" y="916.4" textLength="57.4" lengthAdjust="spacingAndGlyphs" font-size="11.43" fill="#48887a" stroke="#48887a" stroke-width="0.6" stroke-linejoin="round" font-weight="bold" text-anchor="start" style='font-family:"Liberation Sans", sans-serif' >İHRACAT</text>
<rect x="287.2" y="907.3" width="21.1" height="8.8" fill="#334470"/>
<text x="316.0" y="916.2" textLength="54.0" lengthAdjust="spacingAndGlyphs" font-size="11.43" fill="#334470" stroke="#334470" stroke-width="0.6" stroke-linejoin="round" font-weight="bold" text-anchor="start" style='font-family:"Liberation Sans", sans-serif' >İTHALAT</text>
<rect x="405.4" y="907.4" width="21.5" height="9" fill="#4a4a4c"/>
<text x="433.2" y="916.2" textLength="93.8" lengthAdjust="spacingAndGlyphs" font-size="11.43" fill="#4a4a4c" stroke="#4a4a4c" stroke-width="0.6" stroke-linejoin="round" font-weight="bold" text-anchor="start" style='font-family:"Liberation Sans", sans-serif' >TİCARET AÇIĞI</text>
<circle cx="30.2" cy="990.6" r="6.7" fill="#58574f"/>
<circle cx="46.5" cy="990.6" r="6.7" fill="#58574f"/>
<circle cx="63.3" cy="990.6" r="6.7" fill="#58574f"/>
<text x="30.2" y="994.5" font-size="10" fill="#fff" font-weight="bold" text-anchor="middle" style='font-family:"Liberation Sans", sans-serif'>f</text>
<path d="M41.5,993 C43,993.3 44.5,992.6 45.3,991.8 C44.4,991.7 43.8,991.2 43.6,990.6 C43.9,990.7 44.2,990.6 44.4,990.5 C43.6,990.2 43,989.6 43,988.8 C43.3,989 43.6,989 43.9,989 C43.2,988.4 43,987.6 43.4,986.9 C44.3,988 45.6,988.6 47,988.7 C46.8,987.4 47.9,986.4 49.1,986.7 C49.5,986.8 49.8,987 50.1,987.2 C50.5,987.1 50.9,987 51.2,986.8 C51.1,987.2 50.8,987.6 50.4,987.8 C50.8,987.8 51.1,987.7 51.5,987.5 C51.2,987.9 50.9,988.3 50.5,988.5 C50.6,991.5 48.3,994.5 44.6,994.5 C43.4,994.5 42.4,994.2 41.5,993 Z" fill="#fff"/>
<text x="63.3" y="994.3" font-size="9.5" fill="#fff" font-weight="bold" text-anchor="middle" style='font-family:"Liberation Sans", sans-serif'>in</text>
<text x="73.5" y="993.6" textLength="65.0" lengthAdjust="spacingAndGlyphs" font-size="10.5" fill="#6d6d6d" font-weight="normal" text-anchor="start" style='font-family:"Liberation Serif", serif' >/standardkibris</text>
<defs><radialGradient id="coin" cx="0.45" cy="0.35" r="0.7"><stop offset="0" stop-color="#ee2a2a"/><stop offset="1" stop-color="#c3121a"/></radialGradient></defs>
<g opacity="1"><ellipse cx="289.8" cy="981.7" rx="20.8" ry="15.3" fill="#b20f17"/><ellipse cx="289.8" cy="978.45" rx="20.696" ry="15.3" fill="#f6c9c9"/><ellipse cx="289.8" cy="976.7" rx="20.8" ry="15.3" fill="url(#coin)"/><g transform="translate(289.8 976.7) scale(1.0)" fill="none" stroke="#fff" stroke-width="1.7" stroke-linecap="butt"><path d="M-11.5,7.5 L-5,3.6 M-10.6,5.6 L-8.6,9.2 M4.5,-6.8 L10.8,-10.2 M7.2,-11.6 L9.2,-7.8"/></g><text x="0" y="0" font-size="26.00" fill="#fff" font-weight="bold" text-anchor="middle" transform="translate(289.50 985.00) skewX(-6)" style='font-family:"Liberation Serif", serif'>S</text></g>
<text x="321.4" y="975.0" textLength="110.6" lengthAdjust="spacingAndGlyphs" font-size="14.045801526717556" fill="#3a3a3a" stroke="#3a3a3a" stroke-width="0.25" stroke-linejoin="round" font-weight="normal" text-anchor="start" style='font-family:"Liberation Serif", serif' >Standard Kıbrıs</text>
<text x="322.4" y="993.0" textLength="108.4" lengthAdjust="spacingAndGlyphs" font-size="16.793893129770993" fill="#3a3a3a" stroke="#3a3a3a" stroke-width="0.3" stroke-linejoin="round" font-weight="normal" text-anchor="start" style='font-family:"Liberation Serif", serif' >INFOGRAPHIC</text>
<rect x="559" y="980" width="117" height="17.3" fill="#5a5a55"/>
<text x="566.5" y="992.5" textLength="103.0" lengthAdjust="spacingAndGlyphs" font-size="11" fill="#fff" font-weight="normal" text-anchor="start" style='font-family:"Liberation Serif", serif' >www.standardkibris.com</text>
</svg>
</body></html>
